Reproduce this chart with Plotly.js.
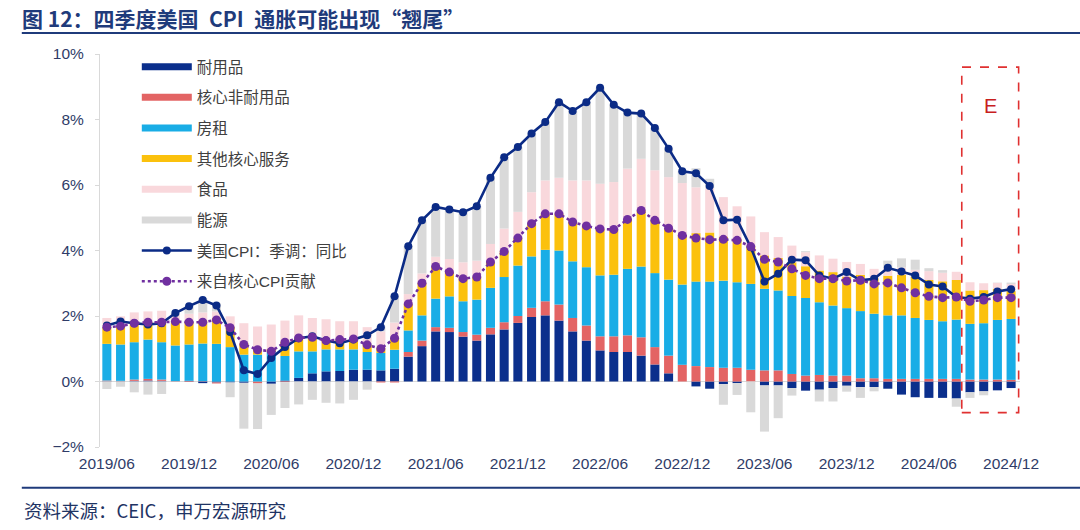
<!DOCTYPE html>
<html>
<head>
<meta charset="utf-8">
<script src="https://cdn.plot.ly/plotly-3.0.1.min.js"></script>
<style>html,body{margin:0;padding:0;background:#fff;}#chart{width:1080px;height:530px;}</style>
</head>
<body>
<div id="chart"></div>
<script>
// ---- data (percentage-point contributions to US CPI yoy) ----
var startYear = 2019, startMonth = 6, nMonths = 67;
var months = [];
for (var k = 0; k < nMonths; k++) {
  var m = startMonth - 1 + k;
  var yy = startYear + Math.floor(m / 12), mm = (m % 12) + 1;
  months.push(yy + '/' + (mm < 10 ? '0' + mm : mm));
}
var tickLabels = ['2019/06','2019/12','2020/06','2020/12','2021/06','2021/12','2022/06','2022/12','2023/06','2023/12','2024/06','2024/12'];

var durable = [0.01,0.01,0.02,0.03,0.02,0.00,-0.01,-0.05,-0.03,-0.03,-0.04,0.00,-0.07,0.03,0.11,0.25,0.31,0.32,0.36,0.36,0.34,0.39,0.76,1.08,1.53,1.51,1.37,1.25,1.44,1.59,1.79,1.97,2.02,1.86,1.53,1.25,0.95,0.90,0.90,0.79,0.52,0.25,0.00,-0.15,-0.22,-0.08,-0.05,0.00,-0.12,-0.12,-0.20,-0.28,-0.25,-0.20,-0.13,-0.17,-0.17,-0.22,-0.40,-0.48,-0.50,-0.50,-0.52,-0.33,-0.30,-0.27,-0.20];
var coreNonDurable = [0.02,0.01,0.04,0.05,0.04,0.01,0.02,0.01,-0.03,0.00,0.00,-0.06,0.00,-0.02,0.00,0.00,0.00,0.00,0.00,0.00,-0.03,-0.03,0.14,0.17,0.13,0.13,0.14,0.18,0.20,0.22,0.21,0.28,0.43,0.49,0.41,0.46,0.43,0.48,0.51,0.56,0.53,0.54,0.51,0.47,0.44,0.42,0.42,0.36,0.34,0.34,0.23,0.18,0.20,0.18,0.18,0.10,0.10,0.08,0.08,0.08,0.08,0.08,0.08,0.06,0.06,0.06,0.05];
var rent = [1.12,1.11,1.14,1.20,1.14,1.09,1.11,1.15,1.15,1.05,0.82,0.82,0.90,0.75,0.81,0.67,0.67,0.66,0.62,0.54,0.53,0.58,0.66,0.77,0.87,0.96,0.94,1.07,1.22,1.38,1.54,1.57,1.57,1.65,1.73,1.78,1.86,1.88,2.03,2.16,2.26,2.32,2.45,2.58,2.61,2.66,2.61,2.62,2.49,2.44,2.38,2.37,2.22,2.14,2.06,2.05,1.97,1.94,1.94,1.86,1.80,1.76,1.81,1.70,1.72,1.82,1.86];
var otherCoreServices = [0.51,0.56,0.58,0.53,0.61,0.73,0.69,0.70,0.79,0.62,0.35,0.21,0.09,0.44,0.41,0.43,0.27,0.30,0.32,0.22,0.16,0.38,0.81,0.98,0.98,0.74,0.69,0.69,0.79,0.78,0.84,1.00,1.10,1.12,1.20,1.26,1.42,1.38,1.51,1.71,1.61,1.57,1.50,1.48,1.50,1.34,1.33,1.14,1.02,0.99,1.03,0.97,0.97,1.02,0.96,1.11,1.08,1.21,1.24,1.25,1.22,1.22,1.21,1.02,1.01,0.95,0.85];
var food = [0.28,0.30,0.33,0.33,0.35,0.20,0.25,0.25,0.20,0.32,0.61,0.65,0.75,0.64,0.69,0.59,0.65,0.56,0.54,0.54,0.50,0.45,0.30,0.30,0.30,0.40,0.50,0.50,0.55,0.70,0.80,0.96,1.02,1.10,1.27,1.39,1.38,1.45,1.55,1.58,1.53,1.56,1.60,1.40,1.35,1.21,0.99,0.92,0.71,0.64,0.51,0.43,0.46,0.41,0.45,0.33,0.29,0.25,0.22,0.22,0.27,0.26,0.25,0.25,0.21,0.18,0.22];
var energy = [-0.23,-0.16,-0.33,-0.40,-0.38,0.06,0.24,0.43,0.24,-0.45,-1.40,-1.39,-0.95,-0.79,-0.70,-0.56,-0.65,-0.67,-0.56,-0.25,0.16,0.83,1.48,1.62,1.52,1.51,1.53,1.66,2.02,2.18,1.98,1.79,1.78,2.31,2.12,2.39,2.93,2.36,1.71,1.38,1.29,0.87,0.36,0.58,0.29,-0.63,-0.36,-0.94,-1.41,-1.00,-0.23,0.03,-0.36,-0.41,-0.18,-0.33,-0.13,0.21,0.28,0.31,0.09,0.08,-0.25,-0.17,-0.12,0.01,0.04];
var cpiYoY = [1.71,1.83,1.78,1.74,1.78,2.09,2.30,2.49,2.32,1.51,0.34,0.23,0.72,1.05,1.32,1.38,1.25,1.17,1.28,1.41,1.66,2.60,4.13,4.92,5.33,5.25,5.17,5.35,6.22,6.85,7.16,7.57,7.92,8.53,8.26,8.53,8.97,8.45,8.21,8.18,7.74,7.11,6.42,6.36,5.97,4.92,4.94,4.10,3.05,3.29,3.72,3.70,3.24,3.14,3.34,3.09,3.14,3.47,3.36,3.24,2.96,2.90,2.58,2.53,2.58,2.75,2.82];
var coreContribution = [1.66,1.69,1.78,1.81,1.81,1.83,1.81,1.81,1.88,1.64,1.13,0.97,0.92,1.20,1.33,1.35,1.25,1.28,1.30,1.12,1.00,1.32,2.37,3.00,3.51,3.34,3.14,3.19,3.65,3.97,4.38,4.82,5.12,5.12,4.87,4.75,4.66,4.64,4.95,5.22,4.92,4.68,4.46,4.38,4.33,4.34,4.31,4.12,3.73,3.65,3.44,3.24,3.14,3.14,3.07,3.09,2.98,3.01,2.86,2.71,2.60,2.56,2.58,2.45,2.49,2.56,2.56];

var seriesNames = ['耐用品','核心非耐用品','房租','其他核心服务','食品','能源'];
var seriesColors = ['#0b2f8c','#e36464','#19ade6','#fbc10d','#f9d8dc','#d9d9d9'];
var seriesData = [durable, coreNonDurable, rent, otherCoreServices, food, energy];
var lineNames = ['美国CPI：季调：同比','来自核心CPI贡献'];
var forecastLabel = 'E';

var FONT = 'Liberation Sans, Arial, Noto Sans CJK SC, sans-serif';
var CJK = 'Noto Sans CJK SC, Liberation Sans, sans-serif';
var traces = [];
seriesData.forEach(function (d, i) {
  traces.push({type:'bar', x: months, y: d, name: seriesNames[i], marker:{color: seriesColors[i], line:{width:0}}, showlegend:false, hoverinfo:'x+y+name'});
});
traces.push({type:'scatter', mode:'lines+markers', x: months, y: cpiYoY, name: lineNames[0],
  line:{color:'#0b2b86', width:2.6}, marker:{color:'#0b2b86', size:8}, legendgroup:'g6', legendrank:7});
traces.push({type:'scatter', mode:'lines+markers', x: months, y: coreContribution, name: lineNames[1],
  line:{color:'#7030a0', width:2.6, dash:'dot'}, marker:{color:'#7030a0', size:9}, legendgroup:'g7', legendrank:8});
// legend keys for the bars (thick bar-like lines)
seriesData.forEach(function (d, i) {
  traces.push({type:'scatter', mode:'lines', x:[months[0]], y:[null], name: seriesNames[i],
    line:{color: seriesColors[i], width:7}, legendgroup:'g'+i, legendrank:i+1, hoverinfo:'skip'});
});

var layout = {
  width:1080, height:530,
  margin:{l:100, r:60, t:54, b:83},
  paper_bgcolor:'#ffffff', plot_bgcolor:'#ffffff',
  barmode:'relative', bargap:0.34,
  font:{family:FONT, size:15, color:'#2f3c68'},
  title:{text:'<b>图 12：四季度美国\u2002CPI\u2002通胀可能出现“翘尾”</b>', x:22/1080, xanchor:'left', xref:'container',
         y:1-20/530, yanchor:'middle', yref:'container', font:{family:CJK, size:21, color:'#1f3b7b'}},
  xaxis:{type:'category', range:[-0.5, 66.65], tickmode:'array', tickvals:tickLabels, ticktext:tickLabels,
         showline:false, showgrid:false, ticks:'', tickfont:{size:15.5, color:'#2f3c68'}, ticklabelstandoff:5, zeroline:false},
  yaxis:{range:[-2,10], dtick:2, ticksuffix:'%', showgrid:false, zeroline:true, zerolinecolor:'#d9d9d9', zerolinewidth:1,
         showline:true, linecolor:'#d9d9d9', linewidth:1, ticks:'outside', ticklen:4, tickcolor:'#d9d9d9',
         tickfont:{size:15.5, color:'#2f3c68'}, ticklabelstandoff:8},
  legend:{x:0.04, y:1.01, xanchor:'left', yanchor:'top', bgcolor:'rgba(255,255,255,0)', itemwidth:50,
          tracegroupgap:7.5, font:{size:15.5, color:'#404040'}, traceorder:'grouped'},
  shapes:[
    {type:'line', xref:'paper', yref:'paper', x0:-0.085, x1:1.07, y0:1.0534, y1:1.0534, line:{color:'#1f3b7b', width:2}},
    {type:'line', xref:'paper', yref:'paper', x0:-0.085, x1:1.07, y0:-0.104, y1:-0.104, line:{color:'#1f3b7b', width:2}},
    {type:'rect', xref:'x', yref:'y', x0:62.4, x1:66.55, y0:-0.95, y1:9.6, line:{color:'#e03131', width:1.6, dash:'dash'}, fillcolor:'rgba(0,0,0,0)'}
  ],
  annotations:[
    {text:forecastLabel, xref:'x', yref:'y', x:64.5, y:8.4, showarrow:false, font:{size:20, color:'#c8201e'}},
    {text:'资料来源：CEIC，申万宏源研究', xref:'paper', yref:'paper', x:-0.085, y:-0.16, xanchor:'left', yanchor:'middle',
     showarrow:false, font:{family:CJK, size:18.5, color:'#1f3464'}}
  ]
};
Plotly.newPlot('chart', traces, layout, {displayModeBar:false, staticPlot:true});
</script>
</body>
</html>
